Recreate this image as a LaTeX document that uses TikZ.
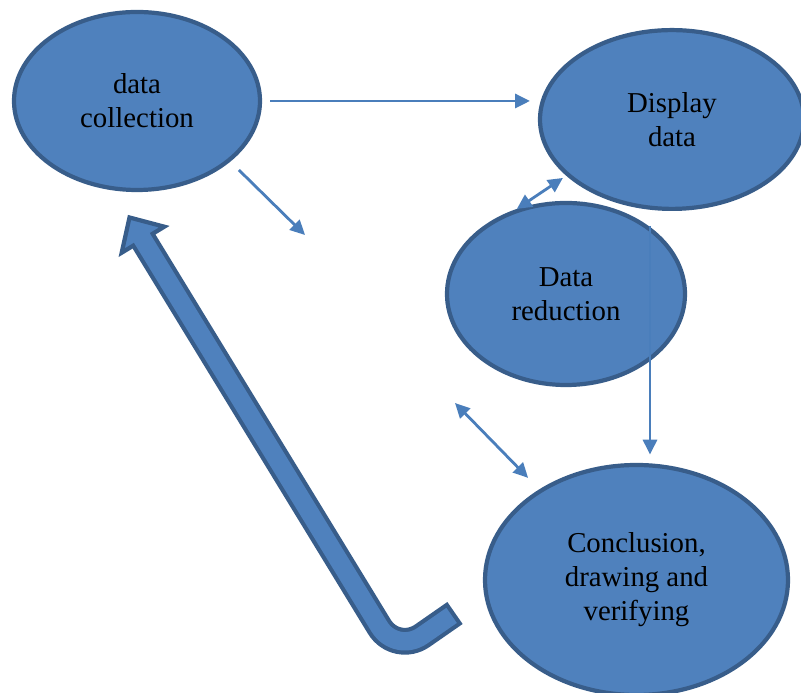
\documentclass[tikz,border=0pt]{standalone}
\usepackage{fontspec}
\setmainfont{Liberation Serif}
\usetikzlibrary{shapes.geometric,arrows.meta}
\definecolor{stagefill}{HTML}{4F81BD}
\definecolor{stageedge}{HTML}{385D8A}
\definecolor{linkblue}{HTML}{4A7EBB}
\tikzset{
  stage/.style={ellipse, draw=stageedge, fill=stagefill, line width=3pt, inner sep=0pt,
    align=center, font=\fontsize{20.5}{24.2}\selectfont},
  link/.style={draw=linkblue, line width=2pt, ->},
  >={Triangle[length=10.5pt,width=10pt]}
}

\begin{document}
\begin{tikzpicture}
    \clip (0,0) rectangle (20.025,17.325);
    % the big bent arrow back to the start
    \coordinate (tip) at (3.2375,11.8875);
    \coordinate (shaft) at (3.5225,11.415);
    \coordinate (bend) at (9.9,0.975);
    \coordinate (tail) at (11.375,2.0);
    \draw[stageedge, line width=0.67cm, rounded corners=0.8cm] (shaft) -- (bend) -- (tail);
    \filldraw[fill=stagefill, draw=stageedge, line width=3pt] (tip) -- (4.1075,11.6575) -- (3.8525,11.5025)
        -- (3.2975,11.1625) -- (3.0425,11.0075) -- cycle;
    \draw[stagefill, line width=0.46cm, rounded corners=0.8cm] (shaft) -- (bend) -- (11.29,1.94);

    \node[stage, minimum width=6.15cm, minimum height=4.45cm] (collect) at (3.425,14.8) {data\\collection};
    \node[stage, minimum width=6.6cm, minimum height=4.47cm] (display) at (16.8,14.3375) {Display\\data};
    \node[stage, minimum width=5.95cm, minimum height=4.55cm] (reduce) at (14.15,9.975) {Data\\reduction};
    \node[stage, minimum width=7.575cm, minimum height=5.75cm] (concl) at (15.9125,2.825) {Conclusion,\\drawing and\\verifying};

    \coordinate (gapa) at (7.625,11.45);
    \coordinate (gapb) at (11.375,7.25);
    \coordinate (vtop) at (16.25,11.675);

    \draw[link, shorten <=0.2cm, shorten >=0.2cm] (collect.east) -- (collect.east -| display.west);
    \draw[link, shorten <=0.3cm] (collect.-33) -- (gapa);
    \draw[link, <->, shorten >=0.1cm] (reduce.120) -- (display.208);
    \draw[link, shorten >=0.21cm] (vtop) -- (vtop |- concl.north);
    \draw[link, <->, shorten >=0.4cm] (gapb) -- (concl.137);
\end{tikzpicture}
\end{document}
